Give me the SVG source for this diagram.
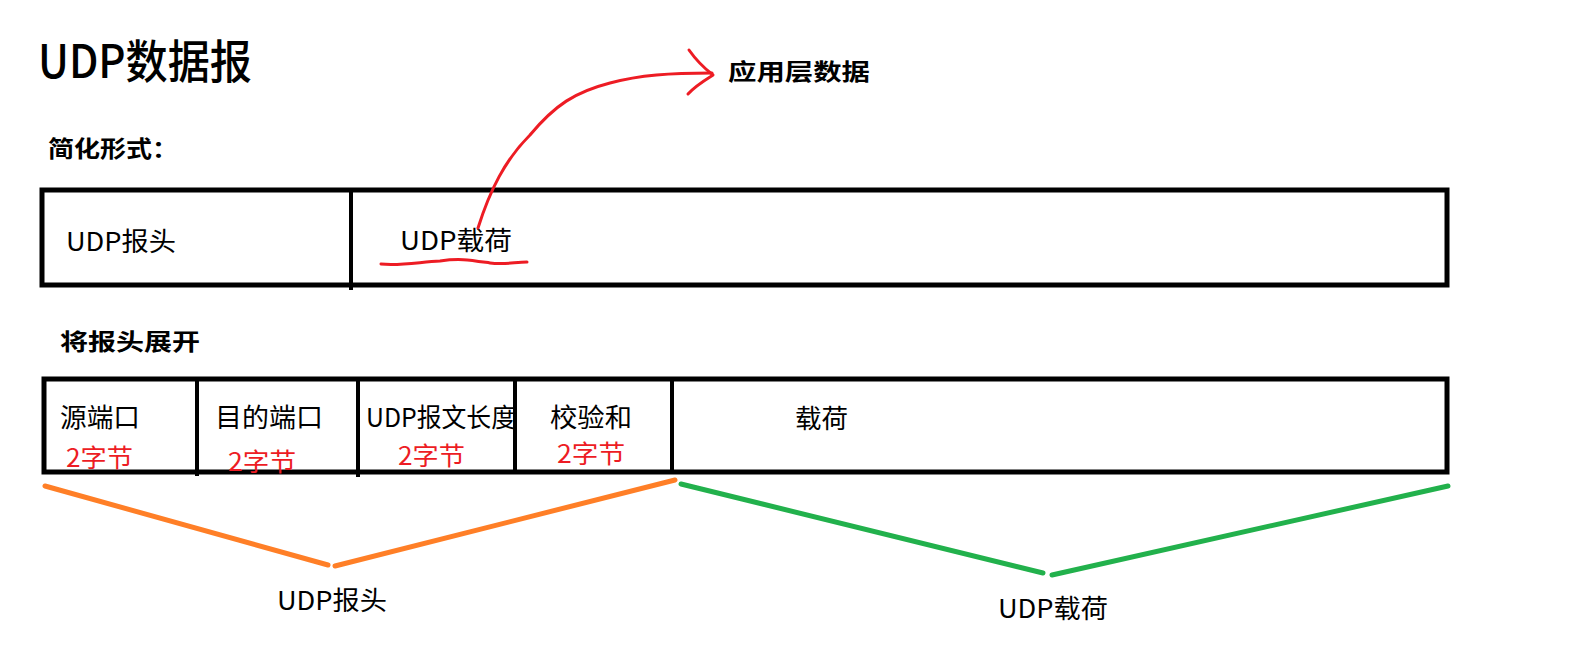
<svg xmlns="http://www.w3.org/2000/svg" width="1569" height="668" viewBox="0 0 1569 668">
<style>
text{font-family:"Noto Sans CJK SC","Noto Sans",sans-serif;fill:#000}
.t{font-size:26px}
.b{font-size:23px;font-weight:bold}
.r{font-size:25px;fill:#ED1C24}
.box{fill:none;stroke:#000;stroke-width:5}
.div{stroke:#000;stroke-width:4}
.pen{fill:none;stroke:#ED1C24;stroke-width:3;stroke-linecap:round;stroke-linejoin:round}
.or{fill:none;stroke:#FF7F27;stroke-width:5;stroke-linecap:round}
.gr{fill:none;stroke:#22B14C;stroke-width:5;stroke-linecap:round}
</style>
<rect width="1569" height="668" fill="#fff"/>
<g id="title"><text x="38" y="78" font-size="46" font-weight="500" textLength="214" lengthAdjust="spacingAndGlyphs">UDP数据报</text></g>
<g id="label-simple"><text class="b" x="48" y="157" textLength="130" lengthAdjust="spacingAndGlyphs">简化形式：</text></g>
<g id="label-appdata"><text class="b" x="728" y="80" textLength="142" lengthAdjust="spacingAndGlyphs">应用层数据</text></g>
<g id="simple-box">
<rect class="box" x="42" y="190" width="1405" height="95"/>
<line class="div" x1="351" y1="190" x2="351" y2="290"/>
</g>
<g id="simple-header"><text class="t" x="66" y="251" textLength="110" lengthAdjust="spacingAndGlyphs">UDP报头</text></g>
<g id="simple-payload"><text class="t" x="400" y="250" textLength="112" lengthAdjust="spacingAndGlyphs">UDP载荷</text></g>
<g id="label-expand"><text class="b" x="60" y="350" textLength="140" lengthAdjust="spacingAndGlyphs">将报头展开</text></g>
<g id="expanded-box">
<rect class="box" x="44" y="379" width="1403" height="93"/>
<line class="div" x1="197" y1="379" x2="197" y2="476"/>
<line class="div" x1="358" y1="379" x2="358" y2="477"/>
<line class="div" x1="515" y1="379" x2="515" y2="472"/>
<line class="div" x1="672" y1="379" x2="672" y2="472"/>
</g>
<g id="field-src"><text class="t" x="60" y="427" textLength="80" lengthAdjust="spacingAndGlyphs">源端口</text><text class="r" x="66" y="467" textLength="67" lengthAdjust="spacingAndGlyphs">2字节</text></g>
<g id="field-dst"><text class="t" x="215" y="427" textLength="108" lengthAdjust="spacingAndGlyphs">目的端口</text><text class="r" x="228" y="471" textLength="68" lengthAdjust="spacingAndGlyphs">2字节</text></g>
<g id="field-len"><text class="t" x="366" y="427" textLength="150" lengthAdjust="spacingAndGlyphs">UDP报文长度</text><text class="r" x="398" y="465" textLength="67" lengthAdjust="spacingAndGlyphs">2字节</text></g>
<g id="field-sum"><text class="t" x="550" y="427" textLength="82" lengthAdjust="spacingAndGlyphs">校验和</text><text class="r" x="557" y="463" textLength="68" lengthAdjust="spacingAndGlyphs">2字节</text></g>
<g id="field-payload"><text class="t" x="795" y="428" textLength="53" lengthAdjust="spacingAndGlyphs">载荷</text></g>
<g id="brace-header-label"><text class="t" x="277" y="610" textLength="110" lengthAdjust="spacingAndGlyphs">UDP报头</text></g>
<g id="brace-payload-label"><text class="t" x="998" y="618" textLength="110" lengthAdjust="spacingAndGlyphs">UDP载荷</text></g>
<g id="connectors">
<path class="pen" d="M381 264 C400 266 420 262 440 261 C460 258 470 260 490 263 C505 265 515 262 527 262"/>
<path class="pen" d="M478 228 C490 190 505 160 530 135 C555 105 575 92 610 83 C640 75 670 73 712 73"/>
<path class="pen" d="M689 50 C696 60 704 68 713 75 C705 80 695 86 688 94"/>
<polyline class="or" points="45,486 328,565"/>
<polyline class="or" points="335,566 675,480"/>
<polyline class="gr" points="681,484 1043,573"/>
<polyline class="gr" points="1052,575 1448,486"/>
</g>
</svg>
